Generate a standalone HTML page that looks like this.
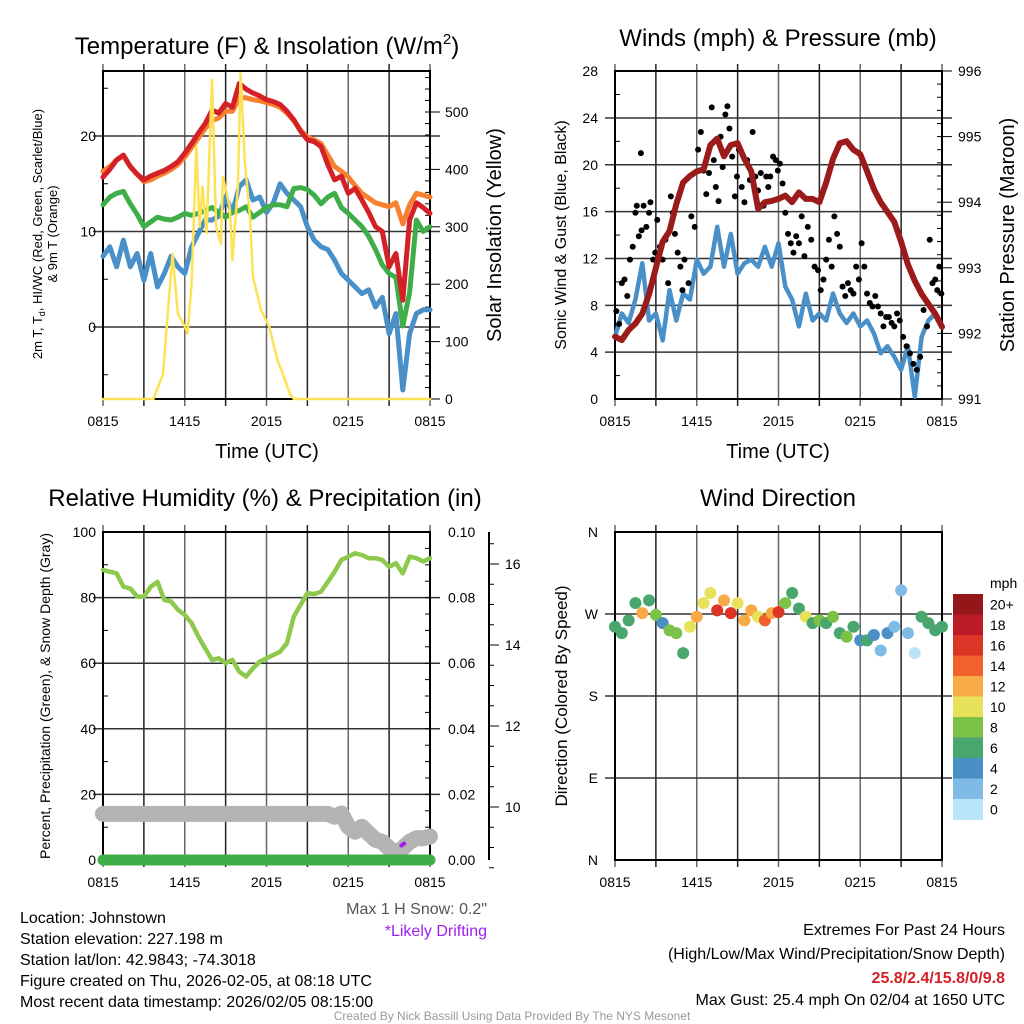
<!DOCTYPE html>
<html><head><meta charset="utf-8"><style>
html,body{margin:0;padding:0;background:#fff;}
svg{display:block;font-family:"Liberation Sans",sans-serif;}
</style></head><body>
<svg id="fig" width="1024" height="1024" viewBox="0 0 1024 1024" xmlns="http://www.w3.org/2000/svg">
<rect width="1024" height="1024" fill="#fff"/>
<g id="p1"></g>
<g id="p2"></g>
<g id="p3"></g>
<g id="p4"></g>

<!-- titles -->
<text x="267" y="54" font-size="24" text-anchor="middle">Temperature (F) &amp; Insolation (W/m<tspan font-size="15" dy="-10">2</tspan><tspan dy="10">)</tspan></text>
<text x="778" y="46" font-size="24" text-anchor="middle">Winds (mph) &amp; Pressure (mb)</text>
<text x="265" y="506" font-size="24" text-anchor="middle">Relative Humidity (%) &amp; Precipitation (in)</text>
<text x="778" y="506" font-size="24" text-anchor="middle">Wind Direction</text>

<text x="267" y="458" font-size="20" text-anchor="middle">Time (UTC)</text>
<text x="778" y="458" font-size="20" text-anchor="middle">Time (UTC)</text>

<text transform="translate(42,234) rotate(-90)" font-size="13" text-anchor="middle">2m T, T<tspan font-size="9" dy="3">d</tspan><tspan dy="-3">, HI/WC (Red, Green, Scarlet/Blue)</tspan></text>
<text transform="translate(57,234) rotate(-90)" font-size="13" text-anchor="middle">&amp; 9m T (Orange)</text>
<text transform="translate(501,235) rotate(-90)" font-size="20" text-anchor="middle">Solar Insolation (Yellow)</text>
<text transform="translate(566,235) rotate(-90)" font-size="16" text-anchor="middle">Sonic Wind &amp; Gust (Blue, Black)</text>
<text transform="translate(1014,235) rotate(-90)" font-size="20" text-anchor="middle">Station Pressure (Maroon)</text>
<text transform="translate(50,696) rotate(-90)" font-size="14" text-anchor="middle">Percent, Precipitation (Green), &amp; Snow Depth (Gray)</text>
<text transform="translate(567,696) rotate(-90)" font-size="17" text-anchor="middle">Direction (Colored By Speed)</text>

<!-- footer text -->
<text x="487" y="914" font-size="16" fill="#555" text-anchor="end">Max 1 H Snow: 0.2"</text>
<text x="487" y="936" font-size="16" fill="#a020f0" text-anchor="end">*Likely Drifting</text>
<g font-size="16">
<text x="20" y="923">Location: Johnstown</text>
<text x="20" y="944">Station elevation: 227.198 m</text>
<text x="20" y="965">Station lat/lon: 42.9843; -74.3018</text>
<text x="20" y="986">Figure created on Thu, 2026-02-05, at 08:18 UTC</text>
<text x="20" y="1007">Most recent data timestamp: 2026/02/05 08:15:00</text>
</g>
<g font-size="16" text-anchor="end">
<text x="1005" y="935">Extremes For Past 24 Hours</text>
<text x="1005" y="959">(High/Low/Max Wind/Precipitation/Snow Depth)</text>
<text x="1005" y="983" fill="#d42027" font-weight="bold">25.8/2.4/15.8/0/9.8</text>
<text x="1005" y="1005">Max Gust: 25.4 mph On 02/04 at 1650 UTC</text>
</g>
<text x="512" y="1020" font-size="12" fill="#999" text-anchor="middle">Created By Nick Bassill Using Data Provided By The NYS Mesonet</text>
</svg>
<script>
// ---------- data ----------
const halfHours = [0,0.5,1,1.5,2,2.5,3,3.5,4,4.5,5,5.5,6,6.5,7,7.5,8,8.5,9,9.5,10,10.5,11,11.5,12,12.5,13,13.5,14,14.5,15,15.5,16,16.5,17,17.5,18,18.5,19,19.5,20,20.5,21,21.5,22,22.5,23,23.5,24];
const xTickHours = [0,6,12,18,24];
const xTickLabels = ["0815","1415","2015","0215","0815"];

const tempRed = [15.7,16.5,17.5,18,16.8,16,15.4,15.8,16.1,16.4,16.8,17.3,18.2,19.2,20.3,21.3,22.7,22.4,23.4,23.0,25.5,24.9,24.5,24.2,23.8,23.6,23.3,22.6,21.7,20.5,19.6,19.4,18.9,17.0,15.4,15.8,14,14.5,13.3,12.0,10.5,10.0,6.3,7.7,2.8,11.2,13,12.5,11.9];
const tempOrange = [16.3,16.8,17.5,17.9,16.8,16,15.2,15.4,15.8,16.1,16.5,17,17.8,18.8,19.8,20.8,21.6,21.9,22.6,22.6,24,24,23.8,23.7,23.5,23.3,23,22.4,21.6,20.6,19.9,19.6,19.2,18,16.8,16.3,15.7,14.8,14,13.5,13,12.8,12.6,13.0,10.8,12.8,14,13.8,13.6];
const dewGreen = [12.8,13.6,14,14.2,12.9,11.8,10.5,11,11.5,11.3,11.2,11.5,11.9,11.7,11.9,12.2,12.5,12.0,11.5,12,12.2,12.6,11.5,12.0,12.5,12.8,12.8,12.6,14.5,14.6,14.4,13.8,12.9,13.6,14,12.5,11.9,11.2,10.5,9.5,8.1,6.5,5.6,5.2,0.1,3.6,11.2,10,10.5];
const windChillBlue = [7.4,8.4,6.3,9.1,6.3,7.7,4.9,7.7,4.2,5.6,7.4,6.3,5.6,8.4,9.8,11.2,11.2,11.6,13.6,12.0,14.7,15.4,13.3,13.6,12.0,13.0,15.0,14.0,13.3,12.6,10.5,9.1,8.4,8.1,7.0,5.6,4.9,4.2,3.5,3.9,2.1,3.1,-0.7,1.4,-6.6,-0.7,1.4,1.8,1.8];
const solarHours = [0,3.7,4.4,5.1,5.5,6.0,6.2,6.5,6.85,7.1,7.3,7.45,7.6,8.0,8.3,8.65,8.8,9.3,9.5,9.9,10.1,10.4,10.8,11.0,11.6,12.2,12.8,13.1,13.7,14.0,24];
const solarW = [0,0,43,253,149,126,114,200,440,300,370,330,289,556,300,270,387,335,242,370,567,416,312,213,155,126,68,50,10,0,0];

const windSpeed = [5.3,7.3,6.5,8.5,11.6,6.7,7.3,5.0,9.3,6.7,9.0,8.5,11.9,10.7,11.3,14.7,11.3,14.1,10.7,11.6,11.9,11.3,13.0,11.3,13.3,9.6,8.5,6.2,9.0,6.7,7.3,6.7,9.0,7.3,6.5,7.3,6.2,6.7,5.6,3.9,4.5,3.6,2.5,4.5,0.2,5.3,6.7,7.3,6.2];
const gustHours = [0.1,0.3,0.5,0.7,0.9, 1.1,1.3,1.5,1.6,1.75,1.9,1.95, 2.1,2.3,2.5,2.6,2.8,2.95, 3.1,3.3,3.5,3.7,3.9, 4.1,4.25,4.4,4.6,4.8,4.95, 5.1,5.4,5.6,5.85, 6.1,6.3,6.5,6.7,6.9, 7.1,7.25,7.4,7.6,7.75,7.9, 8.1,8.25,8.4,8.6,8.8,8.95, 9.1,9.3,9.5,9.7,9.9, 10.1,10.3,10.5,10.7,10.9, 11.1,11.25,11.4,11.6,11.8,11.95, 12.1,12.3,12.5,12.7,12.9, 13.1,13.3,13.5,13.7,13.9, 14.15,14.4,14.65,14.9, 15.1,15.3,15.5,15.7,15.9, 16.1,16.3,16.5,16.7,16.9, 17.1,17.3,17.5,17.7,17.9, 18.1,18.3,18.5,18.7,18.9, 19.1,19.3,19.5,19.7,19.9, 20.1,20.3,20.5,20.7,20.9, 21.15,21.4,21.65,21.9, 22.15,22.4,22.65,22.9, 23.1,23.3,23.5,23.65,23.8,23.95];
const gustVals = [7.5,6.4,9.9,10.2,8.8, 11.9,13.0,15.9,16.5,13.9,21.0,14.4, 16.5,14.7,15.9,16.8,11.9,12.5, 15.3,13.0,11.9,13.6,9.9, 17.3,15.9,14.1,12.5,11.3,9.3, 11.9,9.9,15.6,14.7, 21.3,22.8,19.5,17.5,19.3, 24.9,20.4,18.1,16.9,22.4,19.8, 24.3,25.0,23.1,20.7,17.3,19.0, 21.3,18.1,16.8,20.4,18.7, 22.8,19.0,17.8,19.3,16.5, 19.0,18.1,19.0,20.7,20.4,19.5, 20.1,18.4,15.9,14.1,13.3, 12.5,13.9,13.3,15.6,12.2, 14.7,13.6,11.3,11.0, 9.3,10.2,11.9,13.6,11.3, 15.6,14.1,13.0,9.6,8.8, 9.9,9.3,9.0,11.3,10.2, 13.3,11.3,9.0,8.2,7.9, 8.8,7.9,7.3,6.2,7.0, 7.0,6.5,6.2,7.3,6.7, 5.3,4.5,3.9,3.0, 2.5,3.6,7.6,6.2, 13.6,9.9,10.2,9.3,11.3,9.0];
const pressure = [991.95,991.9,992.05,992.15,992.3,992.6,993.0,993.4,993.56,993.97,994.3,994.4,994.47,994.5,994.87,994.97,994.7,994.87,994.9,994.66,994.47,993.9,994.0,994.02,994.05,994.1,994.0,994.15,994.05,994.05,994.0,994.3,994.66,994.9,994.93,994.8,994.73,994.47,994.2,994.0,993.85,993.7,993.4,993.05,992.8,992.6,992.45,992.3,992.1];

const relHum = [88.4,87.9,87.4,83.3,82.8,80.3,80.3,83.3,84.8,79.3,78.8,76.3,74.7,72.2,68.1,64.5,61.0,61.5,60.0,61.0,57.4,55.9,58.4,60.5,61.5,62.5,63.5,66.1,74.2,77.8,81.3,81.1,81.8,84.8,87.9,91.5,92.5,93.5,93.0,92.0,92.0,91.5,89.4,90.5,87.4,92.5,92.0,91.0,92.0];
const precipHours = [0,6,12,18,24];
const precip = [0,0,0,0,0];
const snowDepth = [9.83,9.83,9.83,9.83,9.83,9.83,9.83,9.83,9.83,9.83,9.83,9.83,9.83,9.83,9.83,9.83,9.83,9.83,9.83,9.83,9.83,9.83,9.83,9.83,9.83,9.83,9.83,9.83,9.83,9.83,9.83,9.83,9.83,9.83,9.76,9.84,9.51,9.39,9.51,9.35,9.19,9.14,8.98,8.86,8.98,9.14,9.23,9.23,9.27];
const driftHours = [21.9,22.1];
const driftSnow = [9.05,9.1];

const windDir = [256,249,263,282,271,285,269,260,252,249,227,256,267,282,293,274,285,271,282,263,274,267,263,271,272,282,293,276,267,260,263,260,267,249,245,256,241,241,247,230,249,256,296,249,227,267,260,252,256];
const dirSpeed = [6,7,6,7,12,6,8,5,8,9,6,10,12,10,10,16,12,16,10,12,13,11,15,13,16,8,6,7,10,7,8,6,9,7,8,6,5,6,4,3.5,5,3,2,2,0.5,7,7,6,6];
const speedBinLabels = ["20+","18","16","14","12","10","8","6","4","2","0"];
const speedBinColors = ["#951619","#bb1b24","#dd3428","#f0612c","#f7aa45","#e8e15a","#7bc247","#48a66e","#4a8fc6","#7fbbe5","#b9e4f9"];

// ---------- helpers ----------
const NS = "http://www.w3.org/2000/svg";
function mk(parent, tag, attrs){ const e=document.createElementNS(NS,tag); for(const k in attrs) e.setAttribute(k,attrs[k]); parent.appendChild(e); return e; }
function xScale(L,R){ return h => L + h*(R-L)/24; }
function linePath(xs, ys, xf, yf){ return xs.map((x,i)=>(i?"L":"M")+xf(x).toFixed(1)+","+yf(ys[i]).toFixed(1)).join(""); }

function frame(g, L, R, T, B, hGrid){
  const xf = xScale(L,R);
  for(let k=0;k<=8;k++){
    const x = xf(k*3);
    const e = mk(g,"line",{x1:x,x2:x,y1:T-7,y2:B+7,stroke:(k%2?"#222":"#666"),"stroke-width":1.5});
    
    
  }
  hGrid.forEach(y=>{
    const e = mk(g,"line",{x1:L-10,x2:R+10,y1:y,y2:y,stroke:"#333","stroke-width":1.5});
    
    
  });
  const b = mk(g,"rect",{x:L,y:T,width:R-L,height:B-T,fill:"none",stroke:"#000","stroke-width":2});
  
  
  xTickHours.forEach((h,i)=>{
    const t = mk(g,"text",{x:xf(h),y:B+27,"font-size":14,"text-anchor":"middle"});
    t.textContent = xTickLabels[i];
    
    
  });
  return xf;
}
function ticks(g, x, ys, len){ ys.forEach(y=>{ mk(g,"line",{x1:x,x2:x+len,y1:y,y2:y,stroke:"#000","stroke-width":1}); }); }
function label(g, x, y, txt, anchor, size, name){
  const t = mk(g,"text",{x:x,y:y,"font-size":size||14,"text-anchor":anchor||"start"});
  t.textContent = txt;
  
  
  return t;
}
function series(g, d, color, w, name){
  const p = mk(g,"path",{d:d,fill:"none",stroke:color,"stroke-width":w,"stroke-linejoin":"round","stroke-linecap":"round"});
  
  
  return p;
}

// ---------- panel 1 ----------
(function(){
  const g = document.getElementById("p1");
  const L=103,R=430,T=71,B=399;
  const yT = v => 327 - v*9.55;
  const yS = v => 399 - v*0.574;
  const xf = frame(g,L,R,T,B,[yT(0),yT(10),yT(20)]);
  [0,10,20].forEach(v=>label(g,96,yT(v)+5,String(v),"end",14));
  [0,100,200,300,400,500].forEach(v=>label(g,445,yS(v)+5,String(v),"start",14));
  const minorT=[]; for(let v=-5;v<=25;v+=10) minorT.push(yT(v)); ticks(g,L,minorT,5);
  const minorS=[]; for(let v=0;v<=560;v+=20) minorS.push(yS(v)); ticks(g,R,minorS,-5);
  const majS=[]; for(let v=0;v<=500;v+=100) majS.push(yS(v)); ticks(g,R,majS,10);
  series(g, linePath(halfHours,windChillBlue,xf,yT), "#4a90c8", 5, "wind-chill-line");
  series(g, linePath(halfHours,dewGreen,xf,yT), "#3fae49", 5, "dewpoint-line");
  series(g, linePath(halfHours,tempOrange,xf,yT), "#f7812f", 5, "temp-9m-line");
  series(g, linePath(halfHours,tempRed,xf,yT), "#d42027", 5, "temp-2m-line");
  series(g, linePath(solarHours,solarW,xf,yS), "#fde255", 2.5, "solar-insolation-line");
})();

// ---------- panel 2 ----------
(function(){
  const g = document.getElementById("p2");
  const L=615,R=942,T=71,B=399;
  const yW = v => 399 - v*11.71;
  const yP = v => 399 - (v-991)*65.6;
  const grid=[]; for(let v=4;v<=24;v+=4) grid.push(yW(v));
  const xf = frame(g,L,R,T,B,grid);
  for(let v=0;v<=28;v+=4) label(g,598,yW(v)+5,String(v),"end",14);
  for(let v=991;v<=996;v++) label(g,958,yP(v)+5,String(v),"start",14);
  const mW=[]; for(let v=2;v<=26;v+=4) mW.push(yW(v)); ticks(g,L,mW,5);
  const mP=[]; for(let v=991;v<=996.01;v+=0.2) mP.push(yP(v)); ticks(g,R,mP,-5);
  const MP=[]; for(let v=991;v<=996;v++) MP.push(yP(v)); ticks(g,R,MP,10);
  series(g, linePath(halfHours,windSpeed,xf,yW), "#4a90c8", 4.5, "sonic-wind-line");
  gustHours.forEach((h,i)=>{
    const c = mk(g,"circle",{cx:xf(h),cy:yW(gustVals[i]),r:3,fill:"#000"});
    
    
  });
  series(g, linePath(halfHours,pressure,xf,yP), "#9b1b1b", 6, "pressure-line");
})();

// ---------- panel 3 ----------
(function(){
  const g = document.getElementById("p3");
  const L=103,R=430,T=532,B=860;
  const yR = v => 860 - v*3.28;
  const yPr = v => 860 - v*3280;
  const ySn = v => 807 - (v-10)*40.5;
  const grid=[]; for(let v=20;v<=80;v+=20) grid.push(yR(v));
  const xf = frame(g,L,R,T,B,grid);
  for(let v=0;v<=100;v+=20) label(g,96,yR(v)+5,String(v),"end",14);
  ["0.00","0.02","0.04","0.06","0.08","0.10"].forEach((s,i)=>label(g,448,yPr(i*0.02)+5,s,"start",14));
  const mR=[]; for(let v=10;v<=90;v+=20) mR.push(yR(v)); ticks(g,L,mR,5);
  const mPr=[]; for(let v=0.005;v<0.1;v+=0.005) mPr.push(yPr(v)); ticks(g,R,mPr,-5);
  mk(g,"line",{x1:489,x2:489,y1:532,y2:860,stroke:"#000","stroke-width":2});
  const mS=[]; for(let v=8.5;v<=16.6;v+=0.5) mS.push(ySn(v)); ticks(g,489,mS,5);
  const MS=[]; for(let v=10;v<=16;v+=2) MS.push(ySn(v)); ticks(g,489,MS,10);
  [10,12,14,16].forEach(v=>label(g,505,ySn(v)+5,String(v),"start",14));
  series(g, linePath(halfHours,snowDepth,xf,ySn), "#b3b3b3", 16, "snow-depth-line");
  series(g, linePath(precipHours,precip,xf,yPr), "#3fae49", 11, "precipitation-line");
  series(g, linePath(halfHours,relHum,xf,yR), "#8cc94c", 4.5, "relative-humidity-line");
  series(g, linePath(driftHours,driftSnow,xf,ySn), "#a020f0", 4, "drifting-marker");
})();

// ---------- panel 4 ----------
(function(){
  const g = document.getElementById("p4");
  const L=615,R=942,T=532,B=860;
  const yD = v => 860 - v*(328/360);
  const xf = frame(g,L,R,T,B,[yD(90),yD(180),yD(270)]);
  ["N","E","S","W","N"].forEach((s,i)=>label(g,598,yD(i*90)+5,s,"end",14));
  halfHours.forEach((h,i)=>{
    const bin = Math.min(10, Math.floor(dirSpeed[i]/2));
    const c = mk(g,"circle",{cx:xf(h),cy:yD(windDir[i]),r:6,fill:speedBinColors[10-bin]});
    
    
  });
  // color bar
  const top=594, bh=20.5;
  speedBinLabels.forEach((s,i)=>{
    const r = mk(g,"rect",{x:953,y:top+i*bh,width:30,height:bh+0.5,fill:speedBinColors[i]});
    
    
    label(g,990,top+i*bh+bh/2+5,s,"start",14,"colorbar-label");
  });
  label(g,990,588,"mph","start",14,"colorbar-title");
})();
</script>
</body></html>
